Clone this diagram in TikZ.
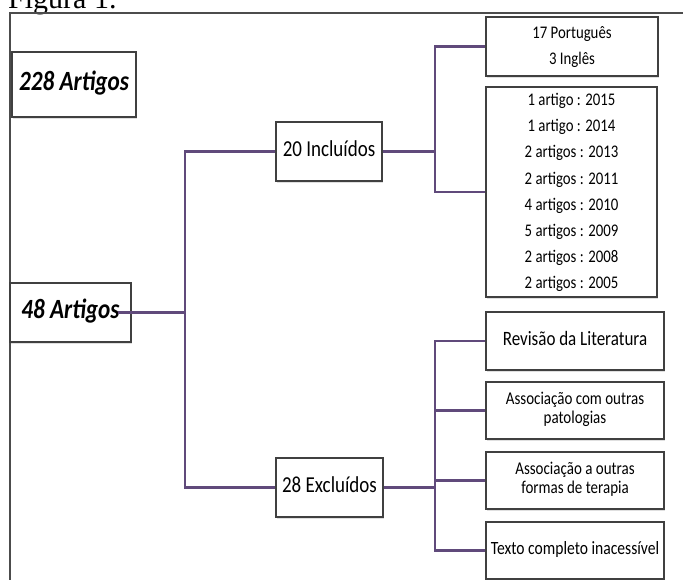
\documentclass[tikz,border=0pt]{standalone}
\usepackage{fontspec}
\usepackage{graphicx}
\setmainfont{Carlito}
\newfontfamily\timesf{Liberation Serif}
\usetikzlibrary{shadows}
\definecolor{connc}{RGB}{96,74,123}
\definecolor{boxline}{RGB}{64,64,64}
\newcommand\vtxt[1]{\scalebox{1}[1.2]{\begin{tabular}{@{}c@{}}#1\end{tabular}}}
\begin{document}
\begin{tikzpicture}[x=1pt,y=-1pt,
  bx/.style={draw=boxline, line width=1.3pt, fill=white, inner sep=0pt, align=center,
    drop shadow={shadow xshift=1pt, shadow yshift=-2pt, opacity=0.25}},
  conn/.style={draw=connc, line width=2.3pt},
  big/.style={font=\fontsize{23.2}{26}\selectfont\bfseries\itshape},
  mid/.style={font=\fontsize{19}{22}\selectfont},
  lst/.style={font=\fontsize{14.8}{21.8}\selectfont},
  sml/.style={font=\fontsize{15}{15.8}\selectfont}]
\useasboundingbox (0,0) rectangle (683,580);
\clip (0,0) rectangle (683,580);
% frame and caption
\node[font=\timesf\fontsize{30}{30}\selectfont, anchor=base west, inner sep=0pt] (fig) at (8,9) {Figura 1.};
\draw[draw=black!70, line width=1.2pt] (683,13) -- (10,13) -- (10,580);
% boxes
\node[bx, big, minimum width=124pt, minimum height=65pt] (b228) at (74,84.5) {\vtxt{228 Artigos}};
\node[bx, big, minimum width=121pt, minimum height=59pt] (b48) at (70.5,312.5) {\vtxt{48 Artigos}};
\node[bx, mid, minimum width=106pt, minimum height=59pt] (inc) at (329,151.5) {\vtxt{20 Incluídos}};
\node[bx, mid, minimum width=107pt, minimum height=59pt] (exc) at (329.5,487.5) {\vtxt{28 Excluídos}};
\node[bx, lst, minimum width=172pt, minimum height=59pt] (lang) at (572,46.5) {\vtxt{17 Português\\3 Inglês}};
\node[bx, lst, minimum width=171pt, minimum height=210pt] (years) at (571.5,192)
  {\vtxt{1 artigo : 2015\\1 artigo : 2014\\2 artigos : 2013\\2 artigos : 2011\\4 artigos : 2010\\5 artigos : 2009\\2 artigos : 2008\\2 artigos : 2005}};
\node[bx, font=\fontsize{17}{20}\selectfont, minimum width=178pt, minimum height=58pt] (rev) at (575,341) {\vtxt{Revisão da Literatura}};
\node[bx, sml, minimum width=178pt, minimum height=57pt] (pat) at (575,410.5) {\vtxt{Associação com outras\\patologias}};
\node[bx, sml, minimum width=178pt, minimum height=57pt] (ter) at (575,480.5) {\vtxt{Associação a outras\\formas de terapia}};
\node[bx, font=\fontsize{15.6}{18}\selectfont, minimum width=178pt, minimum height=57pt] (tex) at (575,550.5) {\vtxt{Texto completo inacessível}};
% connectors
\coordinate (t1) at (185,312.5);
\coordinate (bi) at (435,151.5);
\coordinate (be) at (435,487.5);
\draw[conn] ([xshift=-14pt]b48.east) -- (t1);
\draw[conn] (inc.west) -| (t1) |- (exc.west);
\draw[conn] (inc.east) -- (bi);
\draw[conn] (lang.west) -| (bi) |- (years.west);
\draw[conn] (exc.east) -- (be);
\draw[conn] (rev.west) -| (be) |- (tex.west);
\draw[conn] (pat.west) -- (pat.west -| be);
\draw[conn] (ter.west) -- (ter.west -| be);
\end{tikzpicture}
\end{document}
